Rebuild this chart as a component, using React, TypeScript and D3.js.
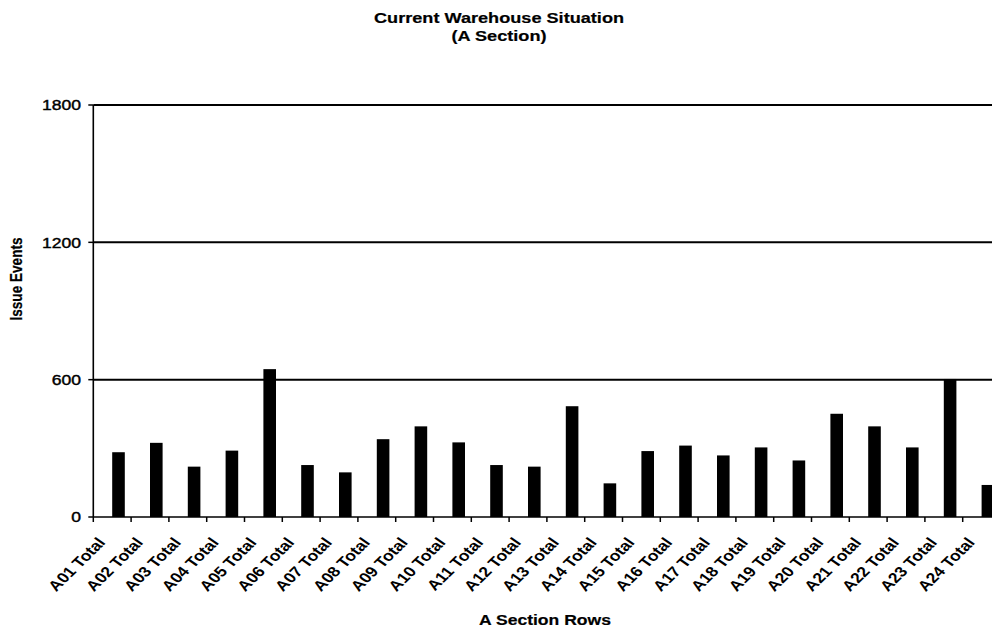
import React from "react";
import * as d3 from "d3";

const categories = [
  "A01 Total", "A02 Total", "A03 Total", "A04 Total", "A05 Total", "A06 Total",
  "A07 Total", "A08 Total", "A09 Total", "A10 Total", "A11 Total", "A12 Total",
  "A13 Total", "A14 Total", "A15 Total", "A16 Total", "A17 Total", "A18 Total",
  "A19 Total", "A20 Total", "A21 Total", "A22 Total", "A23 Total", "A24 Total",
];
const issueEvents = [
  283, 324, 220, 290, 646, 227, 195, 340, 396, 326, 227, 220,
  484, 147, 288, 312, 269, 304, 247, 451, 396, 304, 603, 140,
];
const yTicks = [0, 600, 1200, 1800];

const W = 992;
const H = 632;
const FONT = "'Liberation Sans', Arial, sans-serif";
const SX = 1.21;

function T(props: {
  x: number; y: number; rot?: number; anchor?: string; size: number; bold?: boolean; sw?: number; dy?: string; children: React.ReactNode;
}) {
  const { x, y, rot = 0, anchor = "middle", size, bold, sw, dy, children } = props;
  return (
    <text
      transform={`translate(${x},${y}) scale(${SX},1) rotate(${rot})`}
      textAnchor={anchor}
      dy={dy}
      fontFamily={FONT}
      fontWeight={bold ? "bold" : "normal"}
      fontSize={size}
      fill="#000"
      stroke="#000"
      strokeWidth={sw !== undefined ? sw : bold ? 0.2 : 0.4}
    >
      {children}
    </text>
  );
}

export default function App() {
  const x = d3.scaleBand<string>().domain(categories).range([93.3, 1000.5]).paddingInner(0).paddingOuter(0);
  const y = d3.scaleLinear().domain([0, 1800]).range([517, 105]);
  const bw = x.bandwidth();
  const x0 = x.range()[0];
  const x1 = x.range()[1];
  const boundaries = d3.range(categories.length + 1).map((i) => x0 + i * bw);

  return (
    <svg width={W} height={H} style={{ position: "absolute", left: 0, top: 0, background: "#fff" }}>
      <rect x={0} y={0} width={W} height={H} fill="#fff" />
      {/* title */}
      <T x={499} y={23} size={15} bold>Current Warehouse Situation</T>
      <T x={499} y={41} size={15} bold>(A Section)</T>

      {/* gridlines */}
      {yTicks.filter((t) => t > 0).map((t) => (
        <line key={"g" + t} x1={x0} x2={x1} y1={y(t)} y2={y(t)} stroke="#000" strokeWidth={2} />
      ))}

      {/* bars */}
      {issueEvents.map((v, i) => (
        <rect
          key={categories[i]}
          x={(x(categories[i]) as number) + bw / 2}
          y={y(v)}
          width={bw / 3}
          height={y(0) - y(v)}
          fill="#000"
        />
      ))}

      {/* y axis */}
      <line x1={x0} x2={x0} y1={y(1800)} y2={y(0)} stroke="#000" strokeWidth={1.6} />
      {yTicks.map((t) => (
        <g key={"yt" + t}>
          <line x1={x0 - 5} x2={x0} y1={y(t)} y2={y(t)} stroke="#000" strokeWidth={1.5} />
          <T x={81} y={y(t)} dy="0.36em" anchor="end" size={14.5}>{t}</T>
        </g>
      ))}

      {/* x axis */}
      <line x1={x0} x2={x1} y1={y(0)} y2={y(0)} stroke="#000" strokeWidth={1.6} />
      {boundaries.map((bx, i) => (
        <line key={"xt" + i} x1={bx} x2={bx} y1={y(0)} y2={y(0) + 5} stroke="#000" strokeWidth={1.5} />
      ))}
      {categories.map((c) => (
        <T key={"xl" + c} x={(x(c) as number) + bw / 2 - 6} y={y(0) + 26} rot={-50} anchor="end" size={14.5} bold sw={0}>
          {c}
        </T>
      ))}

      {/* axis titles */}
      <T x={545} y={625} size={14.5} bold>A Section Rows</T>
      <T x={22} y={279} rot={-90} size={13.6} bold>Issue Events</T>
    </svg>
  );
}
